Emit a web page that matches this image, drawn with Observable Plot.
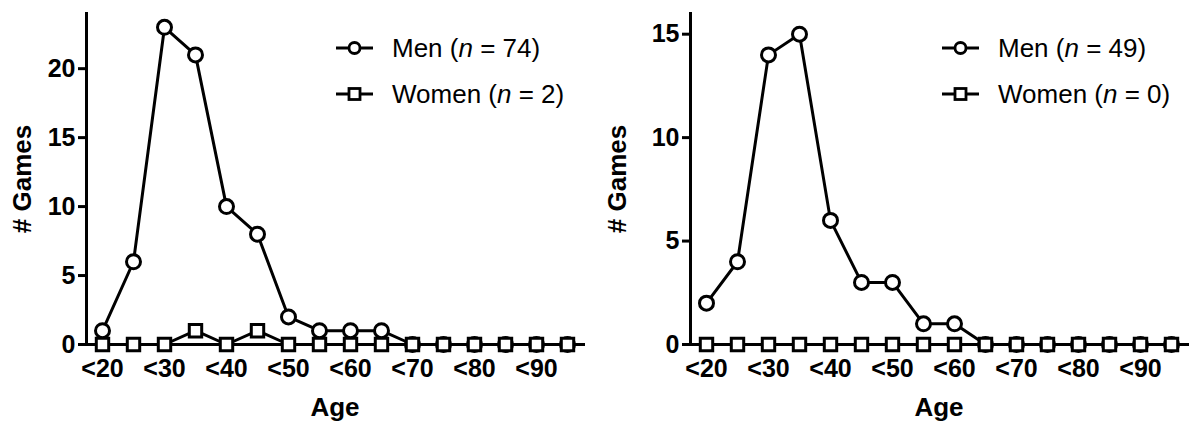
<!DOCTYPE html>
<html><head><meta charset="utf-8">
<script src="https://cdn.jsdelivr.net/npm/d3@7"></script>
<script src="https://cdn.jsdelivr.net/npm/@observablehq/plot@0.6"></script>
<style>
body{margin:0;background:#fff;font-family:"Liberation Sans",Arial,sans-serif;}
#wrap{position:relative;width:1190px;height:424px;overflow:hidden;}
.panel{position:absolute;top:0;}
.row{position:absolute;height:30px;display:flex;align-items:center;white-space:nowrap;font-size:26px;color:#000;}
.row svg{margin-right:19px;}
</style></head><body>
<div id="wrap"></div>
<script>
// ---- data ----
const ageCategories = ["<20","<25","<30","<35","<40","<45","<50","<55","<60","<65","<70","<75","<80","<85","<90","<95"];
const tickLabels = ["<20","<30","<40","<50","<60","<70","<80","<90"];
const menA   = [1,6,23,21,10,8,2,1,1,1,0,0,0,0,0,0];
const womenA = [0,0,0,1,0,1,0,0,0,0,0,0,0,0,0,0];
const menB   = [2,4,14,15,6,3,3,1,1,0,0,0,0,0,0,0];
const womenB = [0,0,0,0,0,0,0,0,0,0,0,0,0,0,0,0];
const yTicksA = [0,5,10,15,20];
const yTicksB = [0,5,10,15];
const seriesNames = ["Men","Women"];
const countsA = [74,2];
const countsB = [49,0];
const yLabel = "# Games";
const xLabel = "Age";

const wrap = document.getElementById("wrap");

function panel({men, women, yMax, yTicks, left, marginLeft, marginRight, counts, legendX}) {
  const data = ageCategories.map((a,i)=>({age:a, men:men[i], women:women[i]}));
  const chart = Plot.plot({
    width: 595, height: 424,
    marginLeft, marginRight, marginTop: 13, marginBottom: 80,
    style: {fontFamily: '"Liberation Sans", Arial, sans-serif', fontSize: "25px", color: "#000", background: "#fff"},
    x: {type: "point", domain: ageCategories, padding: 0.5},
    y: {domain: [0, yMax]},
    marks: [
      Plot.axisY({ticks: yTicks, tickSize: 8, tickPadding: 3, strokeWidth: 3, fontSize: 25, fontWeight: "bold", label: null}),
      Plot.axisX({ticks: tickLabels, tickSize: 7, tickPadding: 8, strokeWidth: 3, fontSize: 25, fontWeight: "bold", label: null}),
      Plot.frame({anchor: "left", strokeWidth: 3}),
      Plot.frame({anchor: "bottom", strokeWidth: 3}),
      Plot.text([yLabel], {text: d=>d, frameAnchor: "left", dx: -(marginLeft - 22), rotate: -90, fontSize: 26, fontWeight: "bold", lineAnchor: "middle", textAnchor: "middle"}),
      Plot.text([xLabel], {text: d=>d, frameAnchor: "bottom", dy: 63, fontSize: 26, fontWeight: "bold", lineAnchor: "middle", textAnchor: "middle"}),
      Plot.line(data, {x: "age", y: "men", stroke: "black", strokeWidth: 3}),
      Plot.dot(data, {x: "age", y: "men", r: 7, stroke: "black", fill: "white", strokeWidth: 3}),
      Plot.line(data, {x: "age", y: "women", stroke: "black", strokeWidth: 3}),
      Plot.dot(data, {x: "age", y: "women", r: 7, symbol: "square", stroke: "black", fill: "white", strokeWidth: 3})
    ]
  });
  const div = document.createElement("div");
  div.className = "panel";
  div.style.left = left + "px";
  div.appendChild(chart);
  wrap.appendChild(div);

  const symbols = [
    '<circle cx="18.5" cy="10" r="5.5" fill="white" stroke="black" stroke-width="2.8"/>',
    '<rect x="13" y="4.5" width="11" height="11" fill="white" stroke="black" stroke-width="2.8"/>'
  ];
  const rowY = [48, 94];
  seriesNames.forEach((name, i) => {
    const row = document.createElement("div");
    row.className = "row";
    row.style.left = legendX + "px";
    row.style.top = (rowY[i] - 15) + "px";
    row.innerHTML = '<svg width="37" height="20"><line x1="0" x2="37" y1="10" y2="10" stroke="black" stroke-width="3"/>' + symbols[i] + '</svg>' +
      '<span>' + name + ' (<i>n</i> = ' + counts[i] + ')</span>';
    wrap.appendChild(row);
  });
}

panel({men: menA, women: womenA, yMax: 24, yTicks: yTicksA, left: 0, marginLeft: 86, marginRight: 12, counts: countsA, legendX: 336});
panel({men: menB, women: womenB, yMax: 16, yTicks: yTicksB, left: 595, marginLeft: 95, marginRight: 3, counts: countsB, legendX: 942});
</script>
</body></html>
